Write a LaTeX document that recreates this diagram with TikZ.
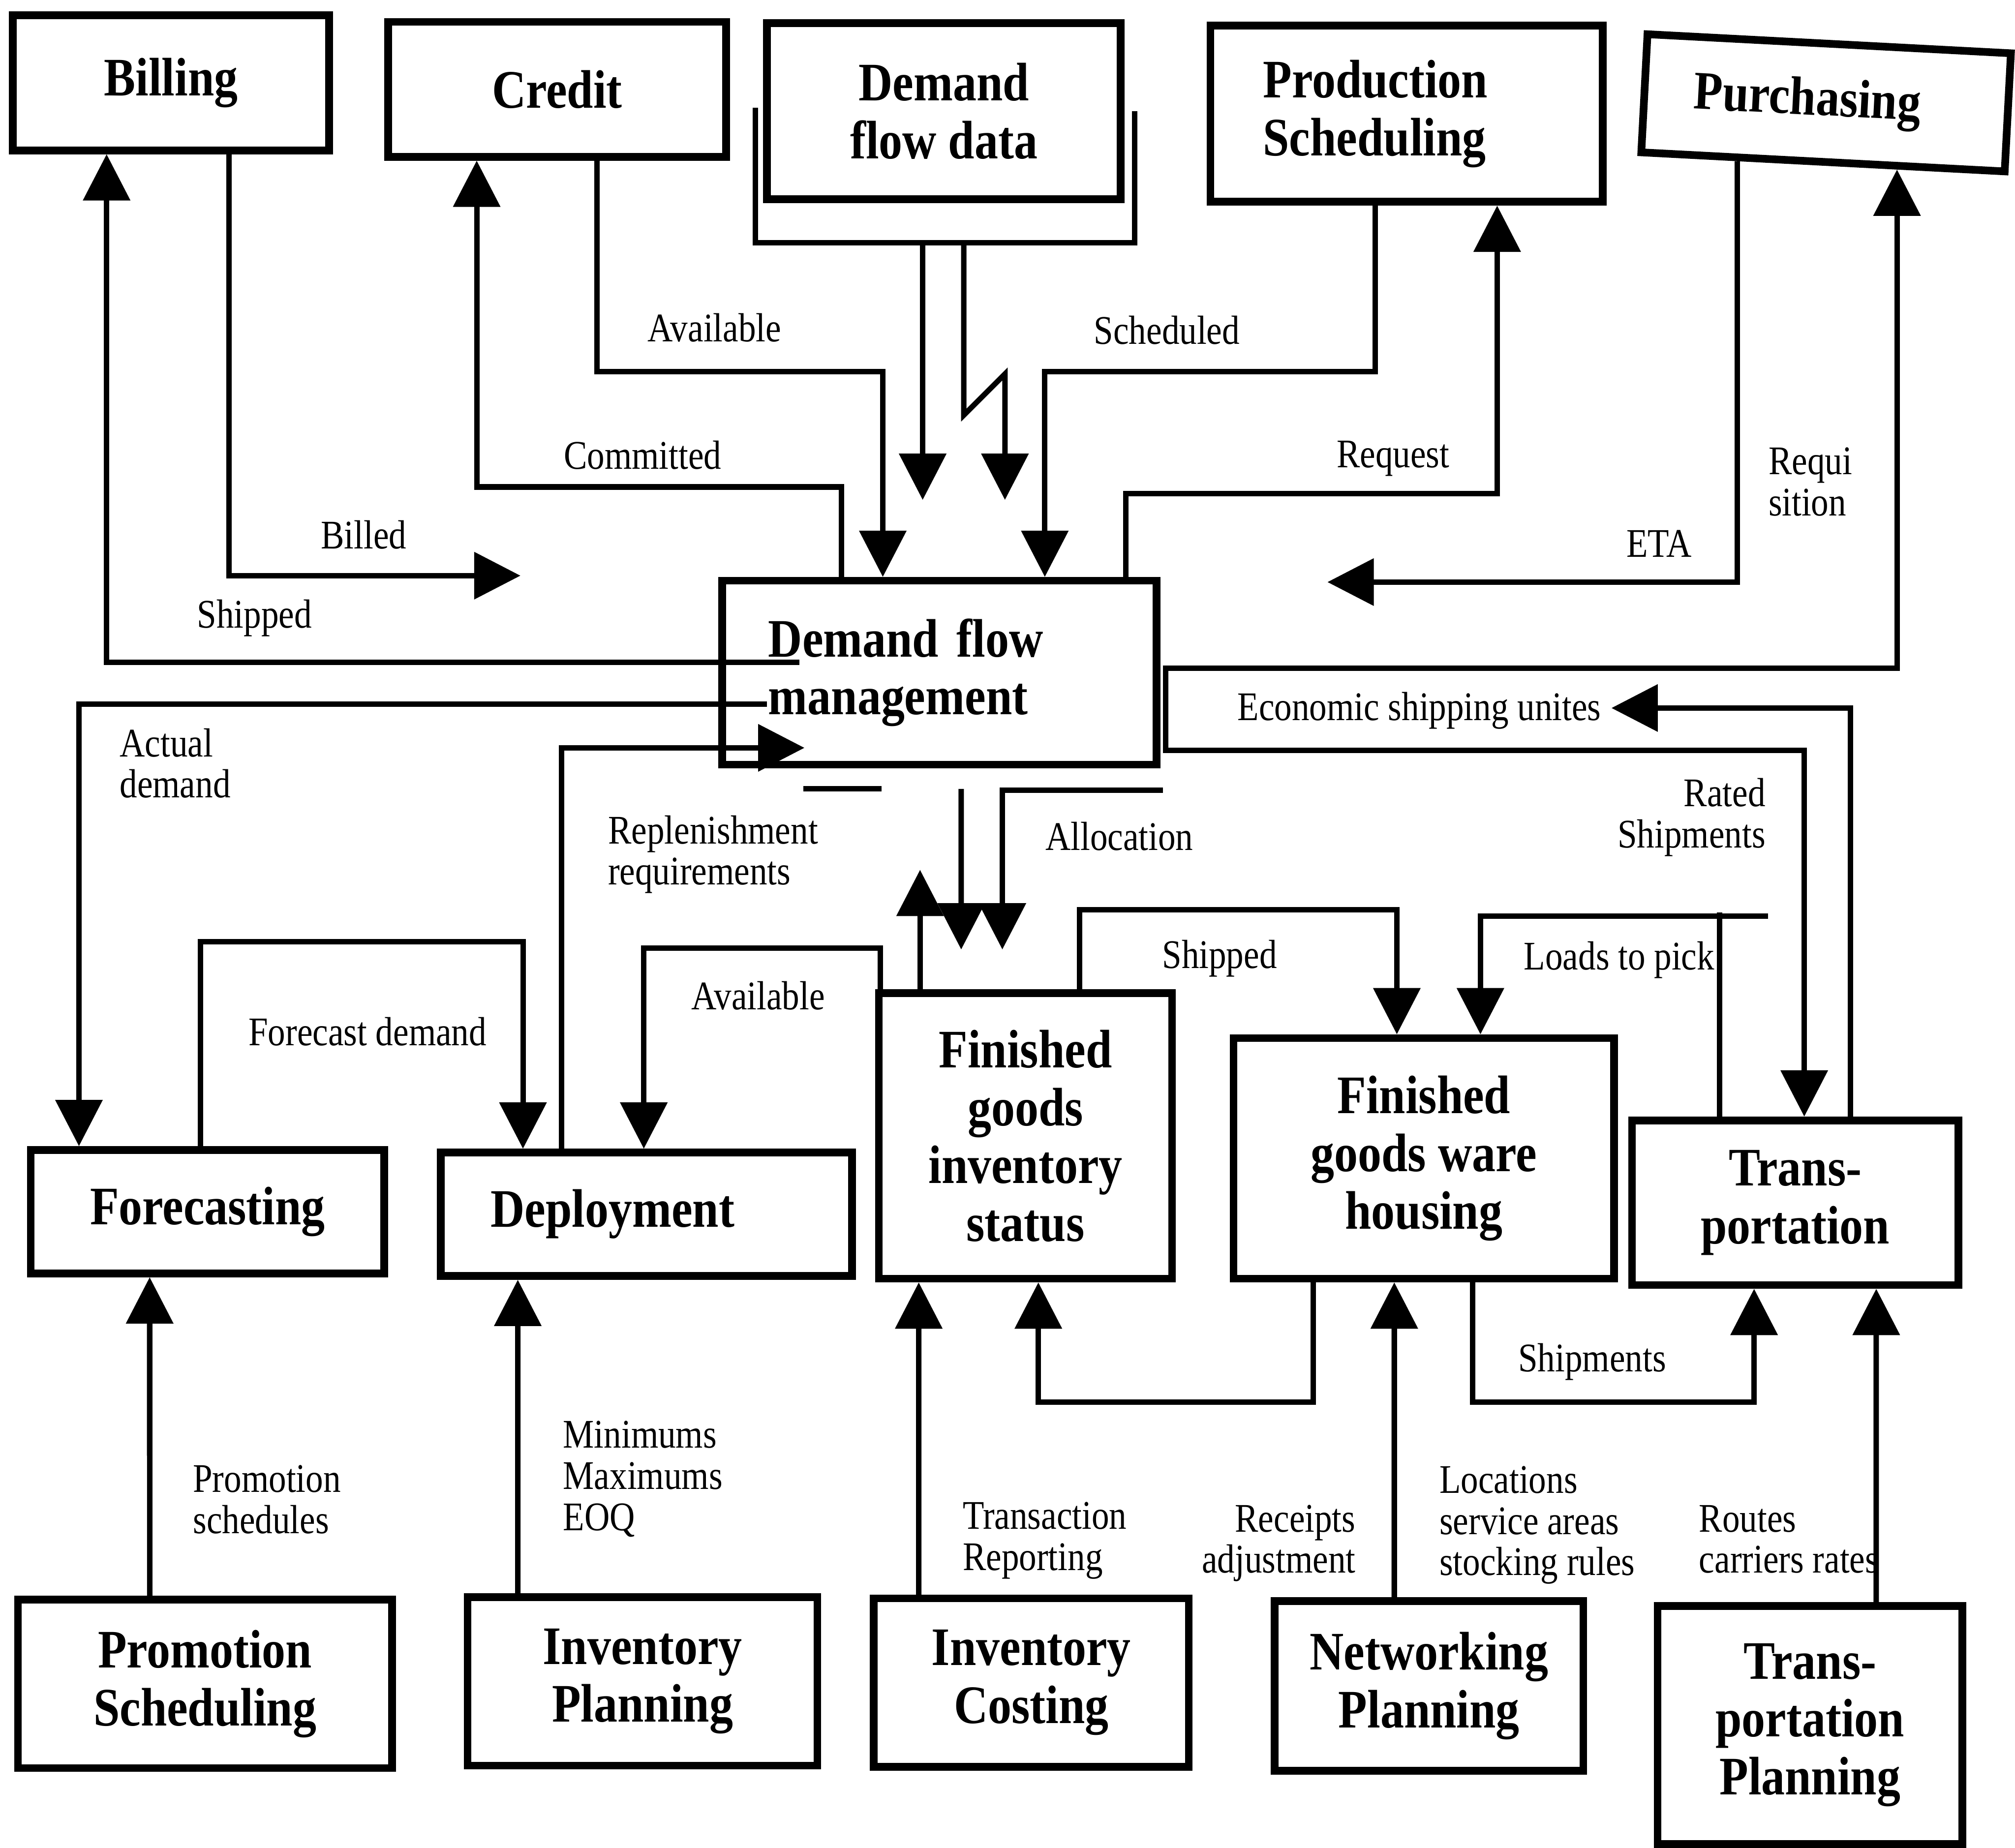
\documentclass[tikz,border=0pt]{standalone}
\usepackage{fontspec}
\setmainfont{Liberation Serif}
\newfontfamily\boxfont{Liberation Serif}[FakeStretch=0.87]
\newfontfamily\lblfont{Liberation Serif}[FakeStretch=0.86]
\usetikzlibrary{arrows.meta,calc}

\begin{document}
\begin{tikzpicture}[x=0.01cm, y=-0.01cm,
        >={Triangle[length=3.6mm,width=3.6mm]},
        box/.style={draw, line width=1.7pt, align=center, inner sep=0pt,
            font=\boxfont\bfseries\fontsize{12}{12.8}\selectfont},
        link/.style={line width=1.2pt},
        feed/.style={link, ->},
        twoway/.style={link, <->},
        lbl/.style={inner sep=1pt, align=left,
            font=\lblfont\fontsize{9}{9.1}\selectfont}]
            \useasboundingbox (0,0) rectangle (1568,1438);

            % top row
            \node[box, minimum width=2.46cm, minimum height=1.05cm] (billing) at (133,64.5) {Billing};
            \node[box, minimum width=2.63cm, minimum height=1.05cm] (credit) at (433.5,69.5) {Credit};
            \node[box, minimum width=2.75cm, minimum height=1.37cm] (dfdata) at (734.5,86.5) {Demand\\flow data};
            \node[box, minimum width=3.05cm, minimum height=1.37cm, text width=2.23cm, align=left] (prodsched) at (1094.5,88.5) {Production\\Scheduling};
            \node[box, rotate=-3, minimum width=2.83cm, minimum height=0.92cm, text width=2.06cm, align=left] (purch) at (1421,80) {Purchasing};

            % middle
            \node[box, minimum width=3.38cm, minimum height=1.43cm, text width=2.66cm, align=left] (dfm) at (731,523.5) {Demand flow\\management};
            \node[box, minimum width=2.75cm, minimum height=0.96cm] (forecast) at (161.5,943) {Forecasting};
            \node[box, minimum width=3.20cm, minimum height=0.96cm, text width=2.42cm, align=left] (deploy) at (503,945) {Deployment};
            \node[box, minimum width=2.28cm, minimum height=2.22cm] (fginv) at (798,884) {Finished\\goods\\inventory\\status};
            \node[box, minimum width=2.96cm, minimum height=1.87cm] (fgware) at (1108,901.5) {Finished\\goods ware\\housing};
            \node[box, minimum width=2.54cm, minimum height=1.28cm] (transp) at (1397,936) {Trans-\\portation};

            % bottom row
            \node[box, minimum width=2.91cm, minimum height=1.31cm] (promo) at (159.5,1310.5) {Promotion\\Scheduling};
            \node[box, minimum width=2.72cm, minimum height=1.31cm] (invplan) at (500,1308.5) {Inventory\\Planning};
            \node[box, minimum width=2.45cm, minimum height=1.31cm] (invcost) at (802.5,1309.5) {Inventory\\Costing};
            \node[box, minimum width=2.40cm, minimum height=1.32cm] (netplan) at (1112,1312) {Networking\\Planning};
            \node[box, minimum width=2.37cm, minimum height=1.85cm] (transplan) at (1408.5,1342.5) {Trans-\\portation\\Planning};

            % free ends
            \coordinate (billedtip) at (405,448);
            \coordinate (etatip) at (1033,453);
            \coordinate (esutip) at (1254,551);
            \coordinate (reptip) at (626,582);
            \coordinate (loadsend) at (1376,713);
            \coordinate (allocend) at (905,615);
            \coordinate (alloctop) at (748,614);
            \coordinate (stubl) at (625,614);
            \coordinate (stubr) at (686,614);

            % billing and credit
            \draw[feed] ([xshift=0.63cm,yshift=0.08cm]dfm.west) -| ([xshift=-0.5cm]billing.south);
            \draw[feed] ([xshift=0.45cm]billing.south) |- (billedtip);
            \draw[feed] ([xshift=-0.76cm]dfm.north) -- ++(0,-70) -| ([xshift=-0.625cm]credit.south);
            \draw[feed] ([xshift=0.31cm]credit.south) -- ++(0,164) -| ([xshift=-0.44cm]dfm.north);

            % demand flow data
            \draw[link] ([xshift=-0.06cm,yshift=0.025cm]dfdata.west) |- ([xshift=0.08cm,yshift=-0.31cm]dfdata.south east) -- ([xshift=0.08cm]dfdata.east);
            \draw[feed] ([xshift=-0.165cm,yshift=-0.31cm]dfdata.south) -- ++(0,200);
            \draw[feed] ([xshift=0.155cm,yshift=-0.31cm]dfdata.south) -- ++(0,134) -- ++(32,-32) -- ++(0,98);

            % production scheduling
            \draw[feed] ([xshift=-0.245cm]prodsched.south) -- ++(0,129) -| ([xshift=0.82cm]dfm.north);
            \draw[feed] ([xshift=1.45cm]dfm.north) -- ++(0,-65) -| ([xshift=0.705cm]prodsched.south);

            % purchasing and transportation
            \draw[feed] ($(purch.south west)!0.27!(purch.south east)$) |- (etatip);
            \draw[twoway] ($(purch.south west)!0.7!(purch.south east)$) |- ([xshift=0.04cm,yshift=0.035cm]dfm.east) -- ++(0,64) -| ([xshift=0.07cm]transp.north);
            \draw[feed] ([xshift=0.43cm]transp.north) |- (esutip);
            \draw[link] ([xshift=-0.59cm]transp.north) -- ++(0,-159);
            \draw[feed] (loadsend) -| ([xshift=0.44cm]fgware.north);
            \draw[feed] ([xshift=0.42cm]fginv.north) -- ++(0,-62) -| ([xshift=-0.21cm]fgware.north);

            % allocation
            \draw[feed] (allocend) -| ([xshift=-0.18cm,yshift=0.31cm]fginv.north);
            \draw[feed] (alloctop) -- ([xshift=-0.50cm,yshift=0.31cm]fginv.north);
            \draw[feed] ([xshift=-0.82cm]fginv.north) -- ++(0,-93);
            \draw[link] (stubl) -- (stubr);

            % forecasting and deployment
            \draw[feed] ([xshift=-0.66cm]deploy.north) |- (reptip);
            \draw[feed] ([xshift=0.38cm,yshift=-0.245cm]dfm.west) -| ([xshift=-1.0cm]forecast.north);
            \draw[feed] ([xshift=-0.055cm]forecast.north) -- ++(0,-159) -| ([xshift=-0.96cm]deploy.north);
            \draw[feed] ([xshift=0.04cm]fginv.north west) -- ++(0,-32) -| ([xshift=-0.02cm]deploy.north);

            % planning inputs
            \draw[feed] ([xshift=-0.43cm]promo.north) -- ([xshift=-0.45cm]forecast.south);
            \draw[feed] ([xshift=-0.97cm]invplan.north) -- ([xshift=-1.00cm]deploy.south);
            \draw[feed] ([xshift=-0.875cm]invcost.north) -- ([xshift=-0.83cm]fginv.south);
            \draw[feed] ([xshift=-0.86cm]fgware.south) -- ++(0,93) -| ([xshift=0.10cm]fginv.south);
            \draw[feed] ([xshift=-0.27cm]netplan.north) -- ([xshift=-0.23cm]fgware.south);
            \draw[feed] ([xshift=0.38cm]fgware.south) -- ++(0,93) -| ([xshift=-0.32cm]transp.south);
            \draw[feed] ([xshift=0.515cm]transplan.north) -- ([xshift=0.63cm]transp.south);

            % labels
            \node[lbl] (lblbilled) at (283,416) {Billed};
            \node[lbl] (lblshipped) at (198,481) {Shipped};
            \node[lbl] (lblcommitted) at (500,354) {Committed};
            \node[lbl] (lblavail) at (556,255) {Available};
            \node[lbl] (lblsched) at (908,257) {Scheduled};
            \node[lbl] (lblrequest) at (1084,357) {Request};
            \node[lbl, anchor=west] (lblrequi) at (1372,375) {Requi\\sition};
            \node[lbl] (lbleta) at (1291,423) {ETA};
            \node[lbl, anchor=east] (lblesu) at (1250,553) {Economic shipping unites};
            \node[lbl, anchor=west] (lblactual) at (89,594) {Actual\\demand};
            \node[lbl, anchor=west] (lblrepl) at (469,665) {Replenishment\\requirements};
            \node[lbl] (lblalloc) at (871,651) {Allocation};
            \node[lbl, anchor=east, align=right] (lblrated) at (1378,636) {Rated\\Shipments};
            \node[lbl] (lblshipfg) at (949,746) {Shipped};
            \node[lbl] (lblloads) at (1260,747) {Loads to pick};
            \node[lbl] (lblforecast) at (286,803) {Forecast demand};
            \node[lbl] (lblavaildep) at (590,775) {Available};
            \node[lbl, anchor=west] (lblpromo) at (146,1167) {Promotion\\schedules};
            \node[lbl, anchor=west] (lblminmax) at (434,1151) {Minimums\\Maximums\\EOQ};
            \node[lbl, anchor=west] (lbltrans) at (745,1199) {Transaction\\Reporting};
            \node[lbl, anchor=east, align=right] (lblreceipts) at (1059,1201) {Receipts\\adjustment};
            \node[lbl, anchor=west] (lbllocations) at (1116,1187) {Locations\\service areas\\stocking rules};
            \node[lbl] (lblshipments) at (1239,1060) {Shipments};
            \node[lbl, anchor=west] (lblroutes) at (1318,1198) {Routes\\carriers rates};
        \end{tikzpicture}
\end{document}
